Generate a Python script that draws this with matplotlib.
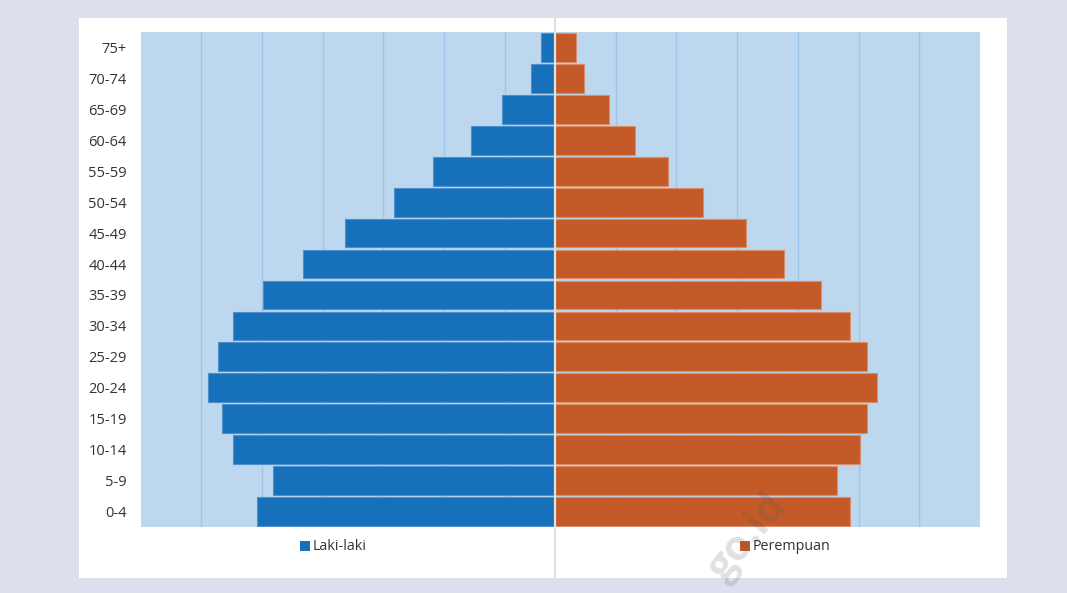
import matplotlib.pyplot as plt
import matplotlib.patches as mpatches

# age groups, bottom to top
age_groups = ["0-4", "5-9", "10-14", "15-19", "20-24", "25-29", "30-34", "35-39",
              "40-44", "45-49", "50-54", "55-59", "60-64", "65-69", "70-74", "75+"]
laki_laki = [491, 465, 530, 548, 571, 556, 531, 481, 416, 346, 265, 201, 138, 87, 40, 23]
perempuan = [486, 464, 503, 514, 531, 514, 486, 438, 377, 315, 244, 186, 132, 89, 47, 35]

BLUE = "#1770ba"
ORANGE = "#c45a27"
PLOT_BG = "#bdd7ee"
GRID = "#9fc5e8"

W, H = 1067, 593
fig = plt.figure(figsize=(W / 100, H / 100), dpi=100)
fig.patch.set_facecolor("#dde0ec")
plt.rcParams["font.family"] = ["Open Sans", "DejaVu Sans"]

# white chart panel
fig.patches.append(mpatches.Rectangle((79 / W, 1 - 578 / H), (1007 - 79) / W, (578 - 18) / H,
                                      transform=fig.transFigure, facecolor="white",
                                      edgecolor="none", zorder=-5))

ax = fig.add_axes([140.5 / W, 1 - 527 / H, (980 - 140.5) / W, (527 - 32) / H])
ax.set_facecolor(PLOT_BG)

y = list(range(len(age_groups)))
ax.barh(y, [-v for v in laki_laki], height=0.93, color=BLUE, edgecolor="#4f8fcb",
        linewidth=0.8, zorder=3)
ax.barh(y, perempuan, height=0.93, color=ORANGE, edgecolor="#d98e6c",
        linewidth=0.8, zorder=3)

xmin, xmax = -683, 700
ax.set_xlim(xmin, xmax)
ax.set_ylim(-0.5, len(age_groups) - 0.5)

# gridlines: right half from zero, left half from the left edge
grid_x = [xmin + 100 * k for k in range(1, 7)] + [100 * k for k in range(1, 7)]
for gx in grid_x:
    ax.axvline(gx, color=GRID, linewidth=1.0, zorder=1)

# centre axis line running over the whole panel
ax.axvline(0, ymin=(527 - 578) / 495, ymax=(527 - 18) / 495, color="#e2e2e2",
           linewidth=1.6, clip_on=False, zorder=4)

ax.set_yticks(y)
ax.set_yticklabels(age_groups, fontsize=10.5, color="#333333")
ax.set_xticks([])
ax.tick_params(axis="y", length=0, pad=10)
for s in ax.spines.values():
    s.set_visible(False)

# legend entries
for x0, label, col in [(300, "Laki-laki", BLUE), (740, "Perempuan", ORANGE)]:
    fig.patches.append(mpatches.Rectangle((x0 / W, 1 - 551 / H), 10 / W, 10 / H,
                                          transform=fig.transFigure, facecolor=col,
                                          edgecolor="none", zorder=2))
    fig.text((x0 + 13) / W, 1 - 546 / H, label, fontsize=10.3, color="#333333",
             va="center", ha="left")

# faint watermark
fig.text(748 / W, 1 - 537 / H, "go.id", fontsize=30, fontweight="bold", color="#555555",
         alpha=0.18, rotation=50, ha="center", va="center", zorder=10)

fig.savefig("out.png", dpi=100, facecolor=fig.get_facecolor())
